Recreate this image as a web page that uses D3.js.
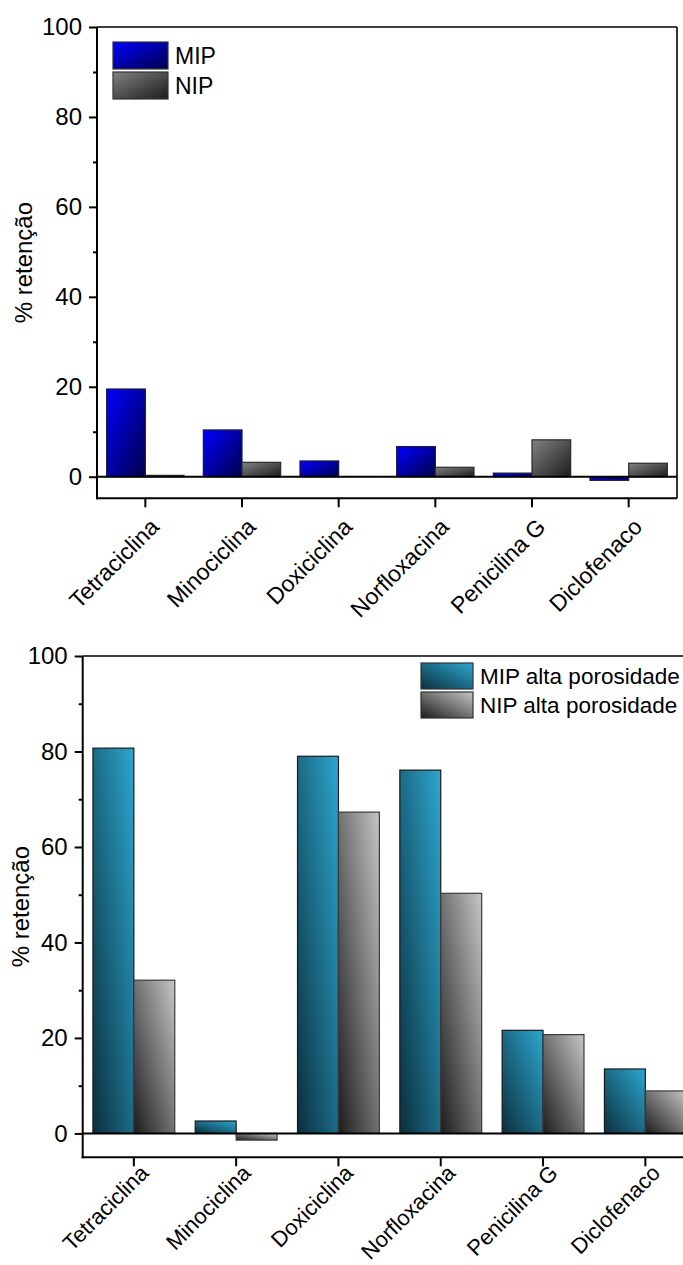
<!DOCTYPE html>
<html>
<head>
<meta charset="utf-8">
<script src="https://cdn.jsdelivr.net/npm/d3@7"></script>
<style>
body { margin: 0; background: #fff; }
svg, svg text { font-family: 'Liberation Sans', Arial, Helvetica, sans-serif; }
</style>
</head>
<body>
<div id="chart"></div>
<script>
// data
var categories = ['Tetraciclina', 'Minociclina', 'Doxiciclina', 'Norfloxacina', 'Penicilina G', 'Diclofenaco'];
var mipValues = [19.5, 10.4, 3.5, 6.7, 0.8, -0.8];
var nipValues = [0.3, 3.2, 0, 2.1, 8.2, 3.0];
var mipAltaValues = [80.7, 2.6, 79.0, 76.1, 21.6, 13.5];
var nipAltaValues = [32.1, -1.4, 67.3, 50.3, 20.7, 8.9];
var majorTicks = [0, 20, 40, 60, 80, 100];
var minorTicks = [10, 30, 50, 70, 90];
var yTitle = '% retenção';

var FONT = "'Liberation Sans', Arial, Helvetica, sans-serif";

var svg = d3.select('#chart')
	.append('svg')
	.attr('width', 683)
	.attr('height', 1265)
	.style('font-family', FONT);

var defs = svg.append('defs');
// gradients, bounding box based like Origin does
function addGradient(id, x1, y1, x2, y2, c1, c2) {
	var g = defs.append('linearGradient')
		.attr('id', id)
		.attr('x1', x1).attr('y1', y1)
		.attr('x2', x2).attr('y2', y2);
	g.append('stop').attr('offset', '0%').attr('stop-color', c1);
	g.append('stop').attr('offset', '100%').attr('stop-color', c2);
}
addGradient('gMip', 0, 0, 1, 1, '#0000ff', '#00004a');
addGradient('gNip', 0, 0, 1, 1, '#828282', '#1c1c1c');
addGradient('gMipAlta', 0, 1, 1, 0, '#0b2f3e', '#2ca7cf');
addGradient('gNipAlta', 0, 1, 1, 0, '#1c1c1c', '#c6c6c6');

function drawChart(cfg) {
	var x = d3.scaleBand()
		.domain(categories)
		.range([cfg.left, cfg.right]);
	var xSub = d3.scaleBand()
		.domain([0, 1])
		.range([0.1 * x.step(), 0.9 * x.step()]);
	var y = d3.scaleLinear()
		.domain([cfg.yMin, 100])
		.range([cfg.bottom, cfg.top]);

	var g = svg.append('g');

	// bars
	var series = [cfg.s1, cfg.s2];
	series.forEach(function (vals, i) {
		g.append('g')
			.selectAll('rect')
			.data(vals)
			.enter()
			.append('rect')
			.attr('x', (d, j) => x(categories[j]) + xSub(i))
			.attr('width', xSub.bandwidth())
			.attr('y', d => y(Math.max(0, d)))
			.attr('height', d => Math.abs(y(d) - y(0)))
			.style('fill', 'url(#' + cfg.fills[i] + ')')
			.style('stroke', cfg.strokes[i])
			.style('stroke-width', 1.2);
	});

	// zero line
	g.append('line')
		.attr('x1', cfg.left).attr('x2', cfg.right)
		.attr('y1', y(0)).attr('y2', y(0))
		.style('stroke', '#000')
		.style('stroke-width', 2);

	// frame
	g.append('line')
		.attr('x1', cfg.left).attr('x2', cfg.right)
		.attr('y1', cfg.top).attr('y2', cfg.top)
		.style('stroke', '#000').style('stroke-width', 1.6);
	g.append('line')
		.attr('x1', cfg.right).attr('x2', cfg.right)
		.attr('y1', cfg.top).attr('y2', cfg.bottom)
		.style('stroke', '#000').style('stroke-width', 1.6);

	// y axis
	var yAxis = g.append('g')
		.attr('transform', 'translate(' + cfg.left + ',0)')
		.call(d3.axisLeft(y).tickValues(majorTicks).tickSize(8).tickSizeOuter(0).tickPadding(7));
	yAxis.attr('font-family', null);
	yAxis.select('.domain').remove();
	yAxis.selectAll('line').style('stroke', '#000').style('stroke-width', 2);
	yAxis.selectAll('text')
		.style('font-family', FONT)
		.style('font-size', '24px')
		.style('fill', '#000');
	var yMinor = g.append('g')
		.attr('transform', 'translate(' + cfg.left + ',0)')
		.call(d3.axisLeft(y).tickValues(minorTicks).tickSize(4).tickFormat(''));
	yMinor.select('.domain').remove();
	yMinor.selectAll('line').style('stroke', '#000').style('stroke-width', 2);
	g.append('line')
		.attr('x1', cfg.left).attr('x2', cfg.left)
		.attr('y1', cfg.top).attr('y2', cfg.bottom + 1)
		.style('stroke', '#000').style('stroke-width', 2);

	// x axis
	var xAxis = g.append('g')
		.attr('transform', 'translate(0,' + cfg.bottom + ')')
		.call(d3.axisBottom(x).tickSize(9).tickSizeOuter(0));
	xAxis.attr('font-family', null);
	xAxis.select('.domain').remove();
	xAxis.selectAll('line').style('stroke', '#000').style('stroke-width', 2);
	xAxis.selectAll('text')
		.attr('y', null)
		.attr('dy', null)
		.attr('text-anchor', 'end')
		.attr('transform', 'translate(' + cfg.labelDx + ',' + cfg.labelDy + ') rotate(-45)')
		.style('font-family', FONT)
		.style('font-size', cfg.labelSize)
		.style('fill', '#000');
	g.append('line')
		.attr('x1', cfg.left - 1).attr('x2', cfg.right)
		.attr('y1', cfg.bottom).attr('y2', cfg.bottom)
		.style('stroke', '#000').style('stroke-width', 2);

	// y title
	g.append('text')
		.attr('text-anchor', 'middle')
		.attr('transform', 'translate(' + cfg.titleX + ',' + (cfg.top + cfg.bottom) / 2 + ') rotate(-90)')
		.style('font-family', FONT)
		.style('font-size', '24px')
		.style('fill', '#000')
		.text(yTitle);

	// legend
	cfg.legend.forEach(function (txt, i) {
		var ly = cfg.legY + i * cfg.legStep;
		g.append('rect')
			.attr('x', cfg.legX)
			.attr('y', ly)
			.attr('width', cfg.legW)
			.attr('height', cfg.legH)
			.style('fill', 'url(#' + cfg.fills[i] + ')')
			.style('stroke', '#333')
			.style('stroke-width', 1.2);
		g.append('text')
			.attr('x', cfg.legX + cfg.legW + 7)
			.attr('y', ly + cfg.legH / 2)
			.attr('dy', '0.36em')
			.style('font-family', FONT)
			.style('font-size', cfg.legSize)
			.style('fill', '#000')
			.text(txt);
	});
}

// top chart
drawChart({
	left: 97, right: 677, top: 27, bottom: 498.3, yMin: -4.8,
	s1: mipValues, s2: nipValues,
	fills: ['gMip', 'gNip'], strokes: ['#1a1a3a', '#2a2a2a'],
	labelDx: 15, labelDy: 30, labelSize: '23px', titleX: 32,
	legend: ['MIP', 'NIP'], legX: 113, legY: 42, legStep: 30, legW: 55, legH: 27, legSize: '23px'
});

// bottom chart
drawChart({
	left: 82.7, right: 696.5, top: 656, bottom: 1157.3, yMin: -5,
	s1: mipAltaValues, s2: nipAltaValues,
	fills: ['gMipAlta', 'gNipAlta'], strokes: ['#1a1a1a', '#3a3a3a'],
	labelDx: 16, labelDy: 17, labelSize: '22px', titleX: 29,
	legend: ['MIP alta porosidade', 'NIP alta porosidade'], legX: 421, legY: 663, legStep: 29, legW: 52, legH: 26, legSize: '22.5px'
});
</script>
</body>
</html>
